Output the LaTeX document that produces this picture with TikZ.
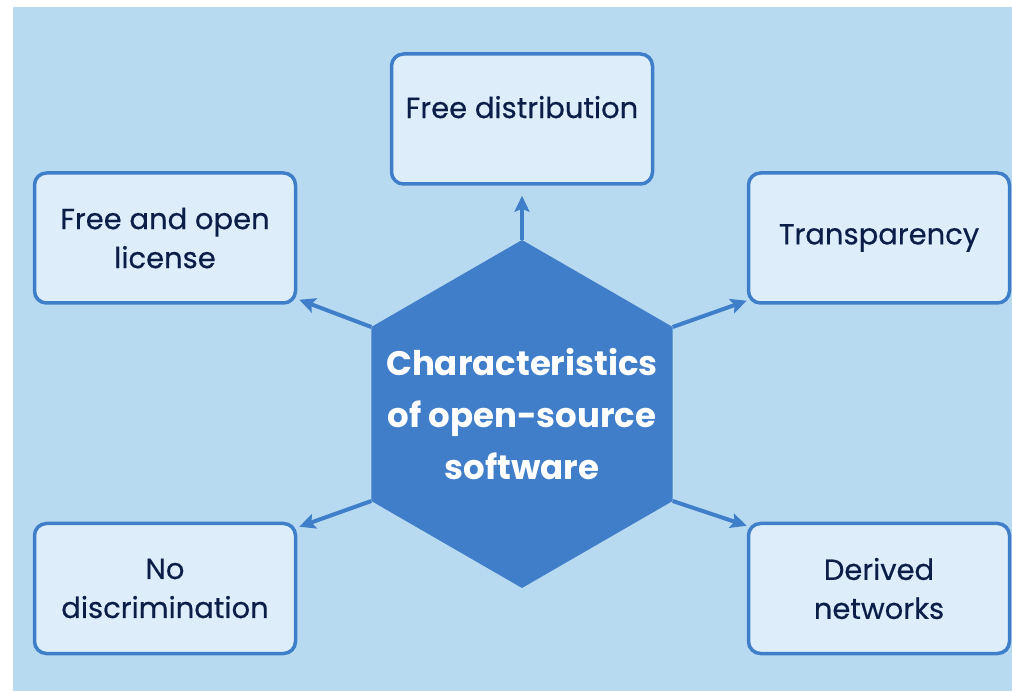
\documentclass[tikz,border=0pt]{standalone}
\usepackage{fontspec}
\setmainfont{Poppins}
\newfontfamily\itemfont{Poppins}[FakeBold=0.5]
\usetikzlibrary{shapes.geometric,arrows.meta}
\definecolor{bgblue}{HTML}{B8DAF0}
\definecolor{boxblue}{HTML}{DDEEFA}
\definecolor{edgeblue}{HTML}{3F7FCA}
\definecolor{hexblue}{HTML}{407EC9}
\definecolor{textnavy}{HTML}{0B1E48}

\begin{document}
\begin{tikzpicture}[x=1pt,y=1pt,
  item/.style={draw=edgeblue,line width=3.5pt,fill=boxblue,rounded corners=12pt,
    minimum width=261pt,minimum height=130pt,align=center,text=textnavy,
    font=\itemfont\fontsize{29}{39}\selectfont},
  link/.style={draw=edgeblue,line width=4pt,-{Stealth[length=16pt,width=15pt,inset=3pt]}}]
\useasboundingbox (0,0) rectangle (1012,691);
\fill[bgblue] (13,0) rectangle (1012,684);
\node[regular polygon,regular polygon sides=6,shape border rotate=30,fill=hexblue,
  minimum size=348pt,inner sep=0pt,outer sep=0pt] (hex) at (522,277) {};
\node[text=white,align=center,font=\bfseries\fontsize{34}{52}\selectfont] (title) at (hex.center)
  {Characteristics\\of open-source\\software};
\node[item,text depth=24pt] (dist) at (522,572) {Free distribution};
\node[item] (lic) at (165,453) {Free and open\\license};
\node[item] (trans) at (879,453) {Transparency};
\node[item] (nod) at (165,102.5) {No\\discrimination};
\node[item] (der) at (879,102.5) {Derived\\networks};
\draw[link] (hex.90) -- ([yshift=-10pt]dist.south);
\draw[link] (hex.150) -- ([shift={(2pt,5pt)}]lic.south east);
\draw[link] (hex.30) -- ([shift={(0pt,4pt)}]trans.south west);
\draw[link] (hex.-150) -- ([shift={(2pt,-5pt)}]nod.north east);
\draw[link] (hex.-30) -- ([shift={(0pt,-4pt)}]der.north west);
\end{tikzpicture}
\end{document}
